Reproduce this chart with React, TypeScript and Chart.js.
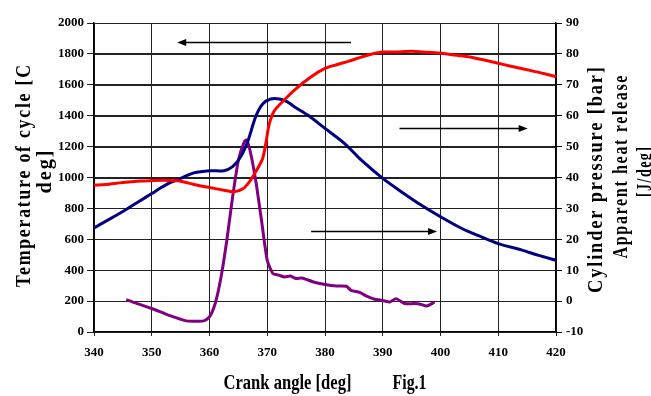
import React, { useEffect, useRef } from "react";
import { Chart, registerables } from "chart.js";

Chart.register(...registerables);

// ---- Data ----
const tempAngles = [340, 342, 345, 348, 350, 352, 355, 357.3, 360, 362.5, 364.2, 365.7, 366.9, 368, 369.2, 369.8, 370.3, 371.2, 372.9, 374.7, 377.6, 380, 382, 384, 387.5, 390, 392, 395, 397, 400, 402, 404.8, 407, 410, 412, 415.2, 418, 420];
const tempValues = [950, 955, 968, 977, 980, 982, 976, 955, 935, 918, 907, 925, 972, 1037, 1123, 1231, 1339, 1430, 1500, 1566, 1652, 1706, 1730, 1752, 1793, 1812, 1812, 1817, 1812, 1804, 1795, 1782, 1765, 1739, 1722, 1696, 1672, 1652];

const pressAngles = [340, 342, 345, 348, 350, 351.5, 353, 355, 357.3, 360, 362.5, 364, 365.4, 366.7, 368, 369.2, 370.6, 372.1, 373.5, 374.7, 377, 380, 383.4, 386.3, 390, 393.2, 396.7, 400, 403.7, 406.8, 410, 414.1, 417, 420];
const pressValues = [23.7, 25.8, 29.0, 32.5, 34.8, 36.6, 38.2, 39.7, 41.5, 42.2, 42.2, 43.5, 46.7, 52.1, 59.7, 63.8, 65.4, 65.4, 64.5, 62.9, 60.2, 55.9, 51.0, 45.6, 39.7, 35.4, 31.0, 27.3, 23.5, 21.0, 18.6, 16.5, 14.8, 13.2];

const heatAngles = [345.6, 347, 350, 353, 356, 359, 360, 361, 362, 363, 364, 365, 366, 366.4, 367, 368, 369, 370, 371, 372, 373, 374, 375, 376, 378, 380, 382, 383.7, 384.5, 386, 387.1, 388.6, 390, 391.2, 392.3, 393.8, 395.5, 396.5, 397.6, 399];
const heatValues = [0.5, -0.5, -2.4, -4.6, -6.4, -6.4, -5.1, -0.7, 7.8, 19.7, 33.7, 45.6, 51.5, 52.1, 48.9, 39.1, 26.2, 13.2, 8.9, 8.4, 7.8, 8.1, 7.3, 7.5, 6.2, 5.4, 4.9, 4.8, 3.5, 2.8, 1.7, 0.6, 0.2, -0.3, 0.8, -0.8, -0.8, -1.0, -1.6, -0.3];

// arrows: [x0, x1, y, axis]
const arrows: [number, number, number, string][] = [
  [384.5, 354.4, 1875, "y"],
  [392.9, 415.1, 56.1, "y1"],
  [377.6, 399.4, 22.7, "y1"],
];

const leftTitle = ["Temperature of cycle [C", "deg]"];
const rightTitle = ["Cylinder pressure [bar]", "Apparent heat release", "[J/deg]"];
const xTitle = "Crank angle [deg]";
const figLabel = "Fig.1";

const FONT = '"Liberation Serif", "Times New Roman", serif';

function drawStretched(ctx: CanvasRenderingContext2D, text: string, cx: number, cy: number, rot: number, len: number, spacing: number, size: number) {
  ctx.save();
  ctx.font = `bold ${size}px ${FONT}`;
  (ctx as any).letterSpacing = `${spacing}px`;
  const w = ctx.measureText(text).width - spacing;
  ctx.translate(cx, cy);
  ctx.rotate(rot);
  ctx.scale(len / w, 1);
  ctx.textAlign = "left";
  ctx.textBaseline = "middle";
  ctx.fillStyle = "#000";
  ctx.fillText(text, -w / 2, 0);
  ctx.restore();
}

const titlePlugin = {
  id: "titles",
  afterDraw(chart: any) {
    const ctx = chart.ctx as CanvasRenderingContext2D;
    drawStretched(ctx, leftTitle[0], 25, 176, -Math.PI / 2, 222, 2, 20);
    drawStretched(ctx, leftTitle[1], 46, 172, -Math.PI / 2, 43, 2, 20);
    drawStretched(ctx, rightTitle[0], 597, 180, -Math.PI / 2, 226, 2, 20);
    drawStretched(ctx, rightTitle[1], 622, 167, -Math.PI / 2, 183, 2, 20);
    drawStretched(ctx, rightTitle[2], 646, 172, -Math.PI / 2, 50, 2, 20);
    drawStretched(ctx, xTitle, 287.5, 384, 0, 128, 0, 20);
    drawStretched(ctx, figLabel, 409.5, 384, 0, 34, 0, 20);
  },
};

// horizontal grid lines following the left axis ticks
const hGridPlugin = {
  id: "hgrid",
  beforeDatasetsDraw(chart: any) {
    const ctx = chart.ctx as CanvasRenderingContext2D;
    const ys = chart.scales.y;
    const { left, right } = chart.chartArea;
    ctx.save();
    ctx.strokeStyle = "#222";
    ctx.lineWidth = 1;
    for (const t of ys.ticks) {
      const y = Math.round(ys.getPixelForValue(t.value)) + 0.5;
      ctx.beginPath();
      ctx.moveTo(left, y);
      ctx.lineTo(right, y);
      ctx.stroke();
    }
    ctx.restore();
  },
};

const arrowPlugin = {
  id: "arrows",
  afterDatasetsDraw(chart: any) {
    const ctx = chart.ctx as CanvasRenderingContext2D;
    const xs = chart.scales.x;
    ctx.save();
    ctx.strokeStyle = "#000";
    ctx.fillStyle = "#000";
    ctx.lineWidth = 1.5;
    for (const [a, b, v, ax] of arrows) {
      const ys = chart.scales[ax];
      const x0 = xs.getPixelForValue(a);
      const x1 = xs.getPixelForValue(b);
      const y = Math.round(ys.getPixelForValue(v)) + 0.5;
      const dir = Math.sign(x1 - x0);
      ctx.beginPath();
      ctx.moveTo(x0, y);
      ctx.lineTo(x1 - dir * 6, y);
      ctx.stroke();
      ctx.beginPath();
      ctx.moveTo(x1, y);
      ctx.lineTo(x1 - dir * 9, y - 3.5);
      ctx.lineTo(x1 - dir * 9, y + 3.5);
      ctx.closePath();
      ctx.fill();
    }
    ctx.restore();
  },
};

function pts(xs: number[], ys: number[]) {
  return xs.map((x, i) => ({ x, y: ys[i] }));
}

const plainLabel = (v: any) => String(v);

export default function App() {
  const ref = useRef<HTMLCanvasElement>(null);
  useEffect(() => {
    if (!ref.current) return;
    const tickFont = { family: FONT, size: 13, weight: "bold" as const };
    const chart = new Chart(ref.current, {
      type: "line",
      data: {
        datasets: [
          { label: "Temperature", data: pts(tempAngles, tempValues), borderColor: "#ff0000", borderWidth: 3, yAxisID: "y", pointRadius: 0, tension: 0.3, fill: false },
          { label: "Cylinder pressure", data: pts(pressAngles, pressValues), borderColor: "#000080", borderWidth: 3, yAxisID: "y1", pointRadius: 0, tension: 0.3, fill: false },
          { label: "Heat release", data: pts(heatAngles, heatValues), borderColor: "#800080", borderWidth: 3, yAxisID: "y1", pointRadius: 0, tension: 0.2, fill: false },
        ],
      },
      options: {
        animation: false,
        responsive: false,
        maintainAspectRatio: false,
        layout: { padding: { top: 23, left: 0, right: 0, bottom: 0 } },
        plugins: { legend: { display: false }, tooltip: { enabled: false } },
        scales: {
          x: {
            type: "linear",
            min: 340,
            max: 420,
            ticks: { stepSize: 10, color: "#000", font: tickFont, padding: 9, maxRotation: 0, callback: plainLabel },
            grid: { display: true, drawOnChartArea: true, color: "#222", lineWidth: 1, tickLength: 4 },
            border: { color: "#000", width: 1.5 },
            afterFit: (s: any) => { s.height = 64; },
          },
          y: {
            type: "linear",
            position: "left",
            min: 0,
            max: 2000,
            ticks: { stepSize: 200, color: "#000", font: tickFont, padding: 3, callback: plainLabel },
            grid: { display: true, drawOnChartArea: true, color: "#222", lineWidth: 1, tickLength: 7 },
            border: { color: "#000", width: 1.5 },
            afterFit: (s: any) => { s.width = 94; },
          },
          y1: {
            type: "linear",
            position: "right",
            min: -10,
            max: 90,
            ticks: { stepSize: 10, color: "#000", font: tickFont, padding: 4, callback: plainLabel },
            grid: { drawOnChartArea: false, color: "#000", tickLength: 6 },
            border: { color: "#000", width: 1.5 },
            afterFit: (s: any) => { s.width = 95; },
          },
        },
      },
      plugins: [hGridPlugin, arrowPlugin, titlePlugin],
    });
    return () => chart.destroy();
  }, []);
  return (
    <div style={{ position: "absolute", left: 0, top: 0, width: 651, height: 396, background: "#fff" }}>
      <canvas ref={ref} width={651} height={396} style={{ display: "block" }} />
    </div>
  );
}
